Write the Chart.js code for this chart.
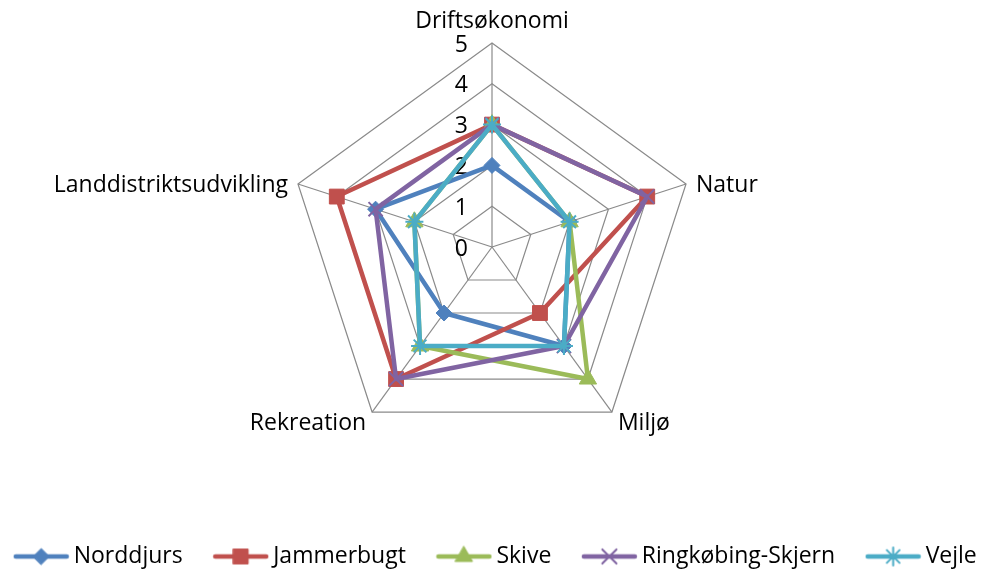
<!DOCTYPE html>
<html>
<head>
<meta charset="utf-8">
<script src="https://cdn.jsdelivr.net/npm/chart.js@4.4.1/dist/chart.umd.min.js"></script>
<style>
  html, body { margin: 0; padding: 0; background: #fff; }
  #wrap { width: 985px; height: 572px; position: relative; }
</style>
</head>
<body>
<div id="wrap"><canvas id="myChart"></canvas></div>
<script>
const categories = ['Driftsøkonomi', 'Natur', 'Miljø', 'Rekreation', 'Landdistriktsudvikling'];
const norddjurs = [2, 2, 3, 2, 3];
const jammerbugt = [3, 4, 2, 4, 4];
const skive = [3, 2, 4, 3, 2];
const ringkobingSkjern = [3, 4, 3, 4, 3];
const vejle = [3, 2, 3, 3, 2];
const scaleTicks = [0, 1, 2, 3, 4, 5];

const fontSize = 23;
const gridColor = '#8a8a8a';
Chart.defaults.font.family = '"Open Sans", sans-serif';
Chart.defaults.color = '#000';

const series = [
    { label: 'Norddjurs', data: norddjurs, color: '#4F81BD', style: 'rectRot', radius: 8, bw: 1 },
    { label: 'Jammerbugt', data: jammerbugt, color: '#C0504D', style: 'rect', radius: 10.5, bw: 1 },
    { label: 'Skive', data: skive, color: '#9BBB59', style: 'triangle', radius: 10, bw: 1 },
    { label: 'Ringkøbing-Skjern', data: ringkobingSkjern, color: '#8064A2', style: 'crossRot', radius: 10, bw: 2 },
    { label: 'Vejle', data: vejle, color: '#4BACC6', style: 'star', radius: 9, bw: 2 },
];

// legend symbol: short line with the marker in the middle
function legendImage(s) {
    const c = document.createElement('canvas');
    c.width = 57;
    c.height = 24;
    const g = c.getContext('2d');
    g.strokeStyle = s.color;
    g.fillStyle = s.color;
    g.lineWidth = 4.5;
    g.lineCap = 'round';
    g.beginPath();
    g.moveTo(3, 12);
    g.lineTo(54, 12);
    g.stroke();
    g.lineWidth = s.bw;
    Chart.helpers.drawPoint(g, { pointStyle: s.style, radius: s.radius, borderWidth: s.bw, rotation: 0 }, 28.5, 12);
    return c;
}
const legendImages = series.map(legendImage);

// tick numbers left of the vertical axis, axis names outside the vertices
const radarText = {
    id: 'radarText',
    afterLayout(chart) {
        // legend sits a little right of the plot centre in the original
        chart.legend.left += 5;
        chart.legend.right += 5;
    },
    beforeDatasetsDraw(chart) {
        const scale = chart.scales.r;
        const ctx = chart.ctx;
        ctx.save();
        ctx.font = fontSize + 'px "Open Sans"';
        ctx.fillStyle = '#000';
        ctx.textAlign = 'right';
        ctx.textBaseline = 'middle';
        scale.ticks.forEach(t => {
            const y = scale.yCenter - scale.getDistanceFromCenterForValue(t.value);
            ctx.fillText(t.label, scale.xCenter - 24, y + 2);
        });
        const capH = fontSize * 0.72;
        ctx.textBaseline = 'alphabetic';
        categories.forEach((name, i) => {
            const p = scale.getPointPosition(i, scale.drawingArea);
            const a = scale.getIndexAngle(i);
            const sin = Math.sin(a), cos = Math.cos(a);
            if (Math.abs(sin) < 0.1) {
                ctx.textAlign = 'center';
                ctx.fillText(name, p.x, p.y - 15);
            } else if (cos > -0.5) {
                ctx.textAlign = sin > 0 ? 'left' : 'right';
                ctx.fillText(name, p.x + (sin > 0 ? 10 : -10), p.y + capH / 2);
            } else {
                ctx.textAlign = sin > 0 ? 'left' : 'right';
                ctx.fillText(name, p.x + (sin > 0 ? 6 : -6), p.y + capH + 1);
            }
        });
        ctx.restore();
    }
};

const ctx = document.getElementById('myChart');
new Chart(ctx, {
    type: 'radar',
    data: {
        labels: categories,
        datasets: series.map((s, i) => ({
            label: s.label,
            data: s.data,
            borderColor: s.color,
            backgroundColor: s.color,
            borderWidth: 4.5,
            borderJoinStyle: 'round',
            fill: false,
            pointStyle: s.style,
            pointRadius: s.radius,
            pointHoverRadius: s.radius,
            pointBorderWidth: s.bw,
            pointBackgroundColor: s.color,
            pointBorderColor: s.color,
            order: series.length - i
        }))
    },
    options: {
        responsive: true,
        maintainAspectRatio: false,
        animation: false,
        layout: {
            padding: { top: 43, left: -29, right: -31, bottom: -6 }
        },
        scales: {
            r: {
                min: scaleTicks[0],
                max: scaleTicks[scaleTicks.length - 1],
                ticks: { stepSize: scaleTicks[1] - scaleTicks[0], display: false },
                pointLabels: { display: false },
                grid: { color: gridColor, lineWidth: 1.2 },
                angleLines: { color: gridColor, lineWidth: 1.2 }
            }
        },
        plugins: {
            tooltip: { enabled: false },
            // empty bottom title used only as a gap between plot and legend
            title: {
                display: true,
                text: '',
                position: 'bottom',
                weight: 500,
                font: { size: 10, lineHeight: 1 },
                padding: { top: 0, bottom: 46 }
            },
            legend: {
                position: 'bottom',
                labels: {
                    usePointStyle: true,
                    pointStyleWidth: 42,
                    padding: 37,
                    color: '#000',
                    font: { size: fontSize },
                    sort: (a, b) => a.datasetIndex - b.datasetIndex,
                    generateLabels: chart => Chart.defaults.plugins.legend.labels.generateLabels(chart)
                        .map(item => Object.assign(item, { pointStyle: legendImages[item.datasetIndex] }))
                }
            }
        }
    },
    plugins: [radarText]
});
</script>
</body>
</html>
